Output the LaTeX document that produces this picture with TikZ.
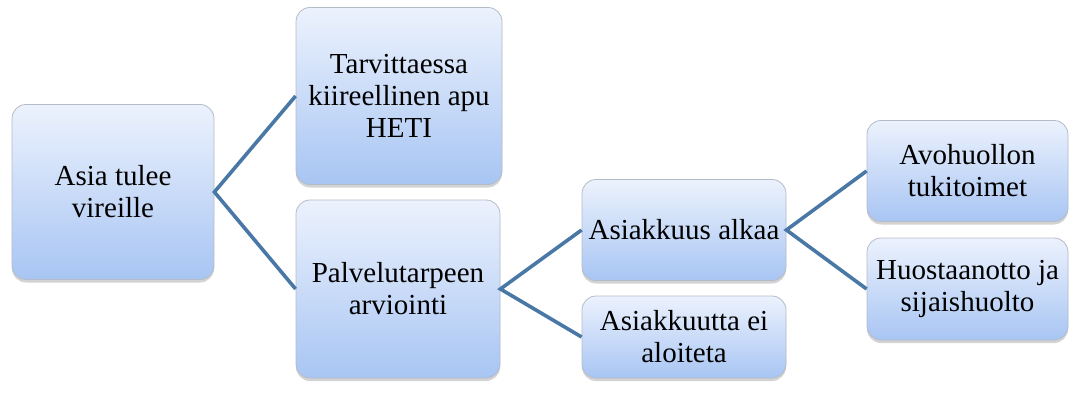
\documentclass[tikz,border=0pt]{standalone}
\usepackage{fontspec}
\setmainfont{Liberation Serif}
\usetikzlibrary{shadows}
\definecolor{boxtop}{HTML}{ECF2FD}
\definecolor{boxbot}{HTML}{A8C5F3}
\definecolor{boxline}{HTML}{B4BCC8}
\definecolor{conn}{HTML}{4A78A6}
\begin{document}
\begin{tikzpicture}[x=1pt,y=-1pt,
  box/.style={draw=boxline, line width=0.8pt, rounded corners=14pt,
    top color=boxtop, bottom color=boxbot, align=center,
    font=\fontsize{29}{32}\selectfont, inner sep=0pt,
    drop shadow={opacity=0.35, shadow xshift=0pt, shadow yshift=-3pt}},
  conn/.style={draw=conn, line width=3.6pt}]
\useasboundingbox (0,0) rectangle (1071,401);
\node[box, minimum width=202pt, minimum height=175pt] (a) at (113,192) {Asia tulee\\vireille};
\node[box, minimum width=206pt, minimum height=177pt] (b) at (399,96) {Tarvittaessa\\kiireellinen apu\\HETI};
\node[box, minimum width=204pt, minimum height=178pt] (c) at (398,289) {Palvelutarpeen\\arviointi};
\node[box, minimum width=204pt, minimum height=101pt] (d) at (684,230) {Asiakkuus alkaa};
\node[box, minimum width=204pt, minimum height=82pt] (e) at (684,337) {Asiakkuutta ei\\aloiteta};
\node[box, minimum width=201pt, minimum height=101pt] (f) at (967.5,171) {Avohuollon\\tukitoimet};
\node[box, minimum width=201pt, minimum height=102pt] (g) at (967.5,289) {Huostaanotto ja\\sijaishuolto};
\draw[conn] (b.west) -- (a.east) -- (c.west);
\draw[conn] (d.west) -- (c.east) -- (e.west);
\draw[conn] (f.west) -- (d.east) -- (g.west);
\end{tikzpicture}
\end{document}
